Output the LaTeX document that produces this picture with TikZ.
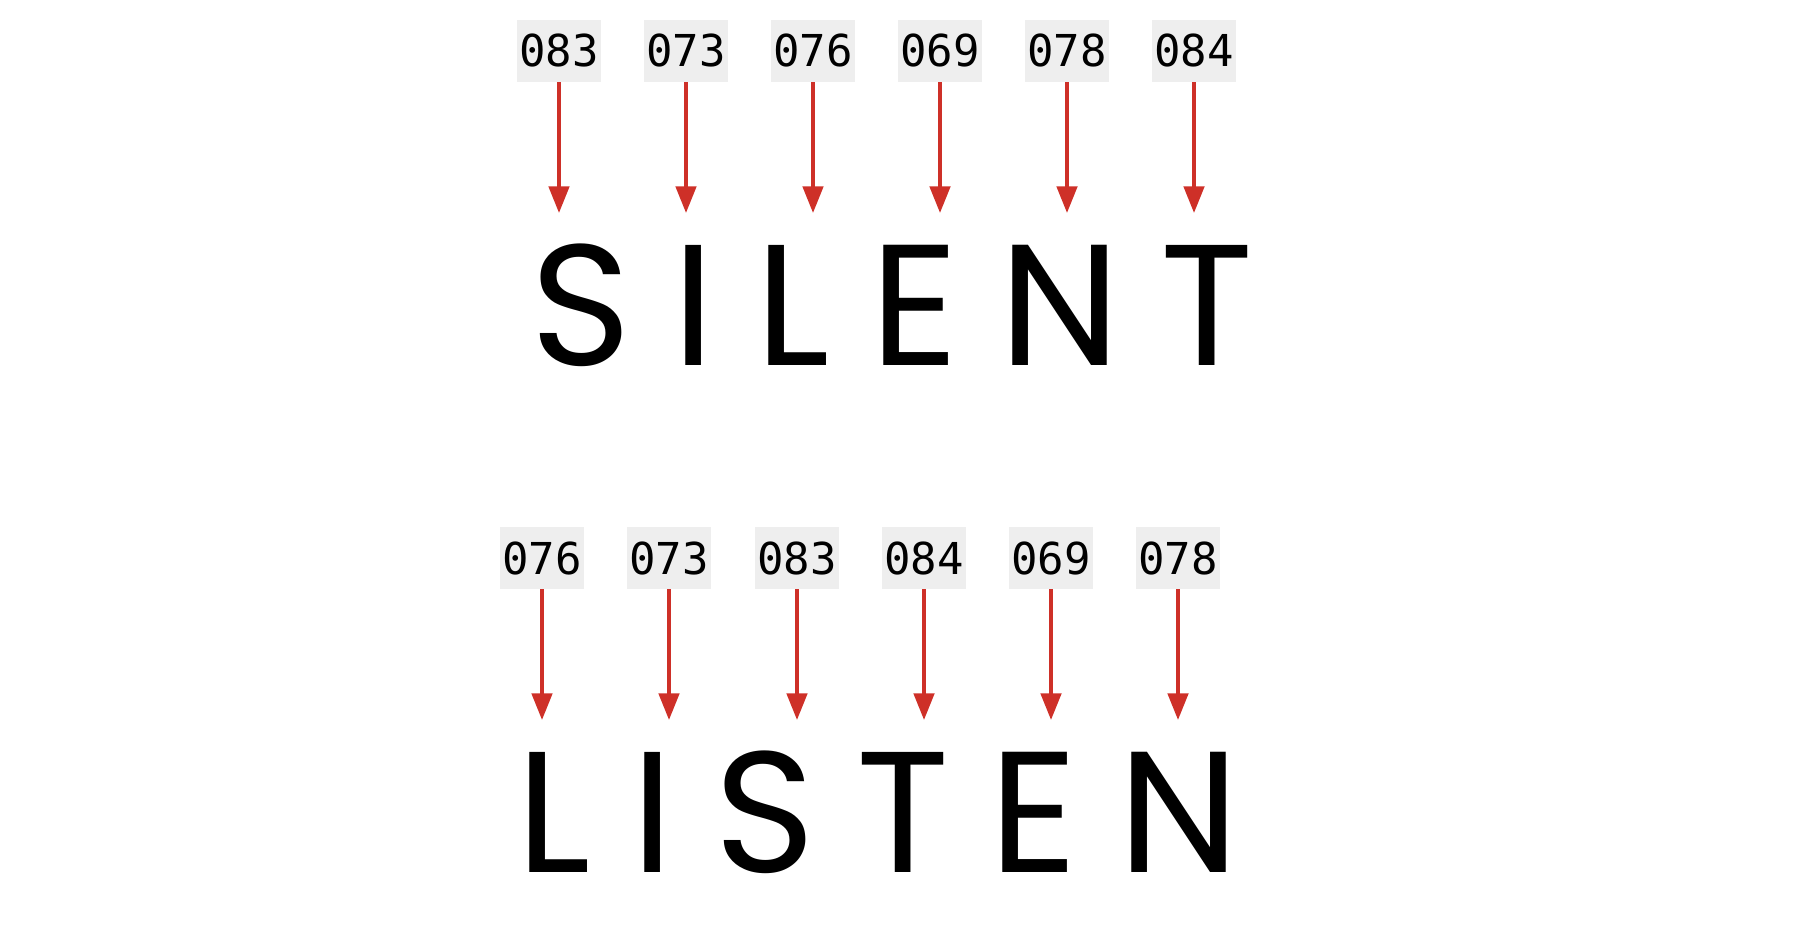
\documentclass[tikz,border=0pt]{standalone}
\usepackage{fontspec}
\setmainfont{Poppins}
\newfontfamily\codefont{DejaVu Sans Mono}
\usetikzlibrary{arrows.meta,positioning}
\definecolor{arrowred}{RGB}{206,48,40}
\definecolor{boxgray}{RGB}{238,238,238}
\tikzset{
  codebox/.style={fill=boxgray, minimum width=0.84cm, minimum height=0.61cm,
    inner sep=0pt, font=\codefont\fontsize{12.5}{14}\selectfont},
  redarrow/.style={arrowred, line width=1.05pt,
    -{Triangle[length=7.6pt,width=5.8pt]}},
  bigword/.style={anchor=base west, inner sep=0pt,
    font=\fontsize{49}{55}\selectfont\addfontfeature{LetterSpace=23.5}}
}
\begin{document}
\begin{tikzpicture}[x=0.01cm,y=-0.01cm]
  \useasboundingbox (0,0) rectangle (1813,937);

  % SILENT
  \foreach \code/\x [count=\i] in {083/559,073/686,076/813,069/940,078/1067,084/1194}{
    \node[codebox] (top\i) at (\x,51) {\code};
    \coordinate (toptip\i) at (\x,213);
    \draw[redarrow] (top\i.south) -- (toptip\i);
  }
  \node[bigword] (silent) at (530,365) {SILENT};

  % LISTEN
  \foreach \code/\x [count=\i] in {076/542,073/669,083/797,084/924,069/1051,078/1178}{
    \node[codebox] (bot\i) at (\x,558) {\code};
    \coordinate (bottip\i) at (\x,720);
    \draw[redarrow] (bot\i.south) -- (bottip\i);
  }
  \node[bigword] (listen) at (516,872) {LISTEN};

\end{tikzpicture}
\end{document}
